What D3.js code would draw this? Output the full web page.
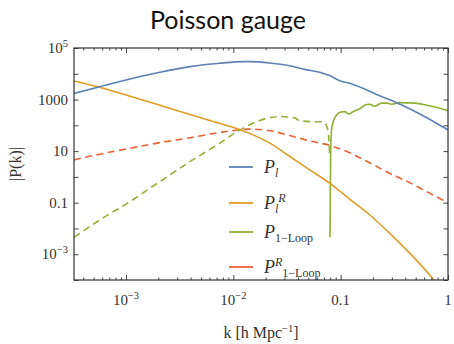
<html>
<meta charset="utf-8">
<body style="margin:0;background:#fff">
<script src="https://d3js.org/d3.v7.min.js"></script>
<div id="my_dataviz"></div>
<script>

// P_l (linear power spectrum)
var kLin = [3.28e-4, 5.7e-4, 1.09e-3, 2.07e-3, 3.94e-3, 7.5e-3, 0.0128, 0.0142, 0.0219, 0.0336, 0.0462, 0.0638, 0.079, 0.098, 0.121, 0.167, 0.231, 0.318, 0.439, 0.604, 1.0]
var pLin = [1740, 3160, 6300, 11500, 19000, 25700, 29500, 29500, 26300, 20400, 14800, 11500, 8500, 5400, 4300, 2570, 1410, 830, 440, 220, 66]

// P_l^R
var kLinR = [3.28e-4, 5.98e-4, 1.09e-3, 2.07e-3, 3.94e-3, 7.5e-3, 0.01125, 0.0155, 0.0219, 0.0336, 0.0515, 0.079, 0.121, 0.186, 0.285, 0.439, 0.673, 1.0]
var pLinR = [5250, 2820, 1350, 600, 263, 117, 71, 41.7, 20.4, 6.2, 1.86, 0.575, 0.138, 0.034, 6.6e-3, 1.1e-3, 1.6e-4, 1.8e-5]

// |P_1-Loop| where it is negative (dashed)
var kLoopNeg = [3.28e-4, 5.7e-4, 1.09e-3, 2.07e-3, 3.94e-3, 7.5e-3, 0.0115, 0.0142, 0.0196, 0.0271, 0.0373, 0.0416, 0.0573, 0.0681, 0.0736, 0.0762, 0.0778, 0.0791]
var pLoopNeg = [4.5e-3, 0.0214, 0.11, 0.66, 3.9, 20.4, 66, 105, 178, 219, 195, 151, 138, 138, 100, 57.5, 27, 6.3]

// P_1-Loop where it is positive (solid)
var kLoopPos = [0.0796, 0.0807, 0.0824, 0.0861, 0.0918, 0.1, 0.109, 0.119, 0.129, 0.150, 0.171, 0.186, 0.207, 0.241, 0.273, 0.298, 0.354, 0.488, 0.673, 1.0]
var pLoopPos = [4.6e-3, 10, 71, 158, 251, 331, 339, 275, 331, 437, 631, 661, 550, 724, 724, 661, 759, 724, 575, 372]

// P^R_1-Loop (dashed)
var kLoopR = [3.28e-4, 5.7e-4, 1.09e-3, 2.07e-3, 3.94e-3, 7.5e-3, 0.0142, 0.0219, 0.0336, 0.0515, 0.079, 0.121, 0.186, 0.285, 0.439, 0.673, 1.0]
var pLoopR = [4.57, 7.6, 12.9, 21.4, 33, 52.5, 71, 62, 40, 25, 16.6, 8.7, 3.55, 1.38, 0.60, 0.234, 0.1]

// tick labels
var xLabels = [[1e-3, "10", "−3"], [1e-2, "10", "−2"], [0.1, "0.1", ""], [1, "1", ""]]
var yLabels = [[1e5, "10", "5"], [1e3, "1000", ""], [10, "10", ""], [0.1, "0.1", ""], [1e-3, "10", "−3"]]

var colBlue = "#5E81B5", colOrange = "#E19C24", colGreen = "#8FB032", colRed = "#EB6235"

var W = 454, H = 344
var margin = {left: 74, right: 6, top: 48, bottom: 64}

var svg = d3.select("#my_dataviz").append("svg")
    .attr("width", W).attr("height", H)

var x = d3.scaleLog().domain([3.28e-4, 1]).range([margin.left, W - margin.right])
var y = d3.scaleLog().domain([1e-4, 1e5]).range([H - margin.bottom, margin.top])

svg.append("clipPath").attr("id", "clip")
  .append("rect")
    .attr("x", margin.left).attr("y", margin.top)
    .attr("width", W - margin.left - margin.right)
    .attr("height", H - margin.top - margin.bottom)

// curves
var line = d3.line()
    .x(function(d) { return x(d[0]) })
    .y(function(d) { return y(d[1]) })
    .curve(d3.curveMonotoneX)

function zip(a, b) { return a.map(function(v, i) { return [v, b[i]] }) }

var series = [
  {k: kLoopR, p: pLoopR, c: colRed, dash: "7,4.5"},
  {k: kLoopNeg, p: pLoopNeg, c: colGreen, dash: "7,4.5"},
  {k: kLoopPos, p: pLoopPos, c: colGreen, dash: null},
  {k: kLinR, p: pLinR, c: colOrange, dash: null},
  {k: kLin, p: pLin, c: colBlue, dash: null}
]
var plot = svg.append("g").attr("clip-path", "url(#clip)")
series.forEach(function(s) {
  plot.append("path")
    .datum(zip(s.k, s.p))
    .attr("d", line)
    .attr("fill", "none")
    .attr("stroke", s.c)
    .attr("stroke-width", 1.6)
    .attr("stroke-dasharray", s.dash)
})

// ticks
var xMajor = [1e-3, 1e-2, 0.1, 1]
var xMinor = []
;[1e-4, 1e-3, 1e-2, 0.1].forEach(function(d) {
  for (var m = 2; m < 10; m++) {
    var v = d * m
    if (v >= 3.28e-4 && v < 1) xMinor.push(v)
  }
})
var yMajor = d3.range(-4, 6).map(function(e) { return Math.pow(10, e) })

var tickColor = "#444"
function drawAxis(gen, tx, ty) {
  var g = svg.append("g").attr("transform", "translate(" + tx + "," + ty + ")").call(gen)
  g.selectAll("text").remove()
  g.select(".domain").remove()
  g.selectAll("line").attr("stroke", tickColor)
}
drawAxis(d3.axisBottom(x).tickValues(xMajor).tickSize(-5), 0, H - margin.bottom)
drawAxis(d3.axisBottom(x).tickValues(xMinor).tickSize(-2.5), 0, H - margin.bottom)
drawAxis(d3.axisTop(x).tickValues(xMajor).tickSize(-5), 0, margin.top)
drawAxis(d3.axisTop(x).tickValues(xMinor).tickSize(-2.5), 0, margin.top)
drawAxis(d3.axisLeft(y).tickValues(yMajor).tickSize(-4.5), margin.left, 0)
drawAxis(d3.axisRight(y).tickValues(yMajor).tickSize(-4.5), W - margin.right, 0)

// frame
svg.append("rect")
    .attr("x", margin.left).attr("y", margin.top)
    .attr("width", W - margin.left - margin.right)
    .attr("height", H - margin.top - margin.bottom)
    .attr("fill", "none").attr("stroke", "#333").attr("stroke-width", 1.2)

var serif = "'Liberation Serif', 'DejaVu Serif', serif"
var txtColor = "#333"

// x tick labels
xLabels.forEach(function(d) {
  var t = svg.append("text")
      .attr("x", x(d[0])).attr("y", 305)
      .attr("text-anchor", "middle")
      .attr("font-family", serif).attr("font-size", 15)
      .attr("fill", txtColor)
      .text(d[1])
  if (d[2]) t.append("tspan").attr("dy", -6).attr("font-size", 10.5).text(d[2])
})

// y tick labels
yLabels.forEach(function(d) {
  var t = svg.append("text")
      .attr("x", 68).attr("y", y(d[0]) + 5)
      .attr("text-anchor", "end")
      .attr("font-family", serif).attr("font-size", 15)
      .attr("fill", txtColor)
      .text(d[1])
  if (d[2]) t.append("tspan").attr("dy", -6).attr("font-size", 10.5).text(d[2])
})

// title
svg.append("text")
    .attr("x", 228).attr("y", 29)
    .attr("text-anchor", "middle")
    .attr("font-family", "Lato, 'DejaVu Sans', sans-serif").attr("font-size", 25)
    .attr("fill", "#111")
    .text("Poisson gauge")

// axis titles
var xt = svg.append("text")
    .attr("x", 261).attr("y", 338)
    .attr("text-anchor", "middle")
    .attr("font-family", serif).attr("font-size", 16)
    .attr("fill", txtColor)
    .text("k [h Mpc")
xt.append("tspan").attr("dy", -6).attr("font-size", 10.5).text("−1")
xt.append("tspan").attr("dy", 6).text("]")

svg.append("text")
    .attr("transform", "translate(21,164) rotate(-90)")
    .attr("text-anchor", "middle")
    .attr("font-family", serif).attr("font-size", 16)
    .attr("fill", txtColor)
    .text("|P(k)|")

// legend
var legend = [
  {c: colBlue, y: 167, parts: [["P", 0, 18, true], ["l", 4, 12, true]]},
  {c: colOrange, y: 203, parts: [["P", 0, 18, true], ["l", 4, 12, true], ["R", -11, 12, true]]},
  {c: colGreen, y: 232, parts: [["P", 0, 18, true], ["1−Loop", 4, 12, false]]},
  {c: colRed, y: 267, parts: [["P", 0, 18, true], ["R", -7, 12, true], ["1−Loop", 11, 12, false]]}
]
legend.forEach(function(d) {
  svg.append("line")
      .attr("x1", 229).attr("x2", 253)
      .attr("y1", d.y).attr("y2", d.y)
      .attr("stroke", d.c).attr("stroke-width", 1.8)
  var t = svg.append("text")
      .attr("x", 264).attr("y", d.y + 6)
      .attr("font-family", serif)
      .attr("fill", txtColor)
  d.parts.forEach(function(p) {
    t.append("tspan")
      .attr("dy", p[1])
      .attr("font-size", p[2])
      .attr("font-style", p[3] ? "italic" : "normal")
      .text(p[0])
  })
})

</script>
</body>
</html>
